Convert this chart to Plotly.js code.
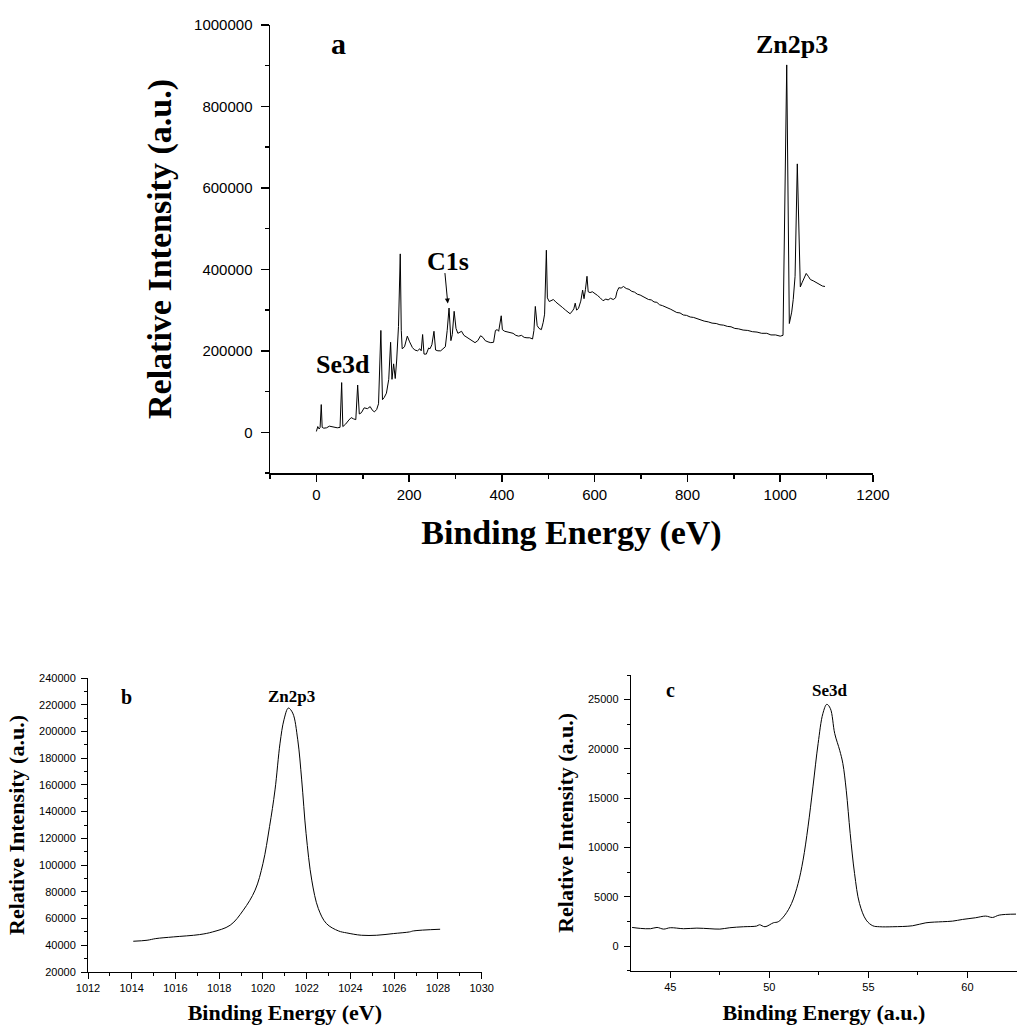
<!DOCTYPE html>
<html>
<head>
<meta charset="utf-8">
<script src="https://cdn.plot.ly/plotly-3.0.1.min.js"></script>
<style>html,body{margin:0;padding:0;background:#fff;}#chart{width:1017px;height:1025px;}</style>
</head>
<body>
<div id="chart"></div>
<script>
// Panel a: XPS survey spectrum
const surveyEnergy = [0,3,6,8,10.5,12.5,16,22,28,35,45,51,54.5,57,63,70,75,80,85,89,92.5,97,103,110,116,120,125,130,134,139,142.5,146,151,156,160,163,166.5,170,173,177,180.8,183,185,190,196,201,207,212,218,223,226,229,232,237,242,245,249,253.5,257,262,268,273,278,282,286,290,293,297,301,305,309,313,318,324,330,336,342,348,354,359,364,370,376,382,386,390,393,398.5,401,406,412,418,424,430,436,442,448,454,460,466,469,472,476,480,485,489,492,495.8,498,502,507,511,516,521,526,531,537,542,547,552,555,558,561,565,570,574,577,580,583.4,586,590,595,601,606,612,618,624,629,634,640,645,648,652,657,662,668,674,680,686,692,698,704,710,716,722,728,734,740,746,752,758,764,770,777,784,791,798,806,813,820,828,836,845,853,862,870,878,886,894,902,910,920,930,940,950,960,971,980,990,1000,1006,1014,1019.6,1024.7,1028,1032,1036.8,1043.3,1047,1052,1056,1060.5,1065,1071,1078,1085.5,1091,1096.5,1100];
const surveyIntensity = [2000,14000,8000,12000,68000,12000,10000,11000,15000,13000,11000,12000,122000,14000,20000,30000,36000,33000,31000,116000,45000,48000,60000,58000,63000,55000,50000,56000,70000,250000,80000,85000,96000,130000,221000,130000,168000,132000,175000,260000,438000,250000,205000,210000,236000,222000,208000,202000,200000,205000,200000,240000,192000,192000,207000,205000,215000,248000,202000,200000,200000,205000,210000,250000,305000,225000,240000,297000,255000,243000,245000,248000,238000,233000,230000,225000,220000,225000,237000,233000,225000,222000,220000,221000,250000,252000,248000,286000,252000,248000,246000,244000,243000,238000,236000,238000,233000,232000,232000,229000,250000,309000,262000,255000,252000,270000,290000,447000,330000,321000,323000,326000,320000,316000,312000,306000,300000,295000,291000,298000,303000,317000,300000,304000,322000,349000,328000,350000,383000,345000,343000,345000,341000,336000,330000,323000,327000,325000,329000,326000,330000,345000,355000,354000,358000,353000,351000,346000,344000,339000,337000,333000,330000,326000,325000,320000,319000,313000,311000,307000,305000,302000,299000,294000,293000,288000,287000,283000,282000,279000,276000,273000,271000,268000,267000,264000,263000,260000,259000,255000,254000,251000,250000,247000,246000,243000,243000,239000,239000,236000,238000,902000,267000,295000,326000,383000,659000,357000,367000,380000,390000,383000,375000,372000,367000,363000,359000,358000];

// Panel b: Zn2p3 high resolution
const znEnergy = [1014.07,1014.7,1015.1,1015.9,1017.1,1017.7,1018.5,1019.1,1019.64,1020.0,1020.3,1020.55,1020.78,1020.96,1021.16,1021.36,1021.59,1021.77,1021.97,1022.23,1022.53,1022.9,1023.45,1023.83,1024.5,1025.2,1025.96,1026.7,1026.88,1028.1];
const znIntensity = [43000,43750,45000,46250,48000,50000,55000,66250,81250,101250,128750,156250,191250,208750,217500,213750,193750,163750,123750,88750,67500,56250,50750,49250,47500,47500,48750,50000,50750,52000];

// Panel c: Se3d high resolution
const seEnergy = [43.07,43.5,44.0,44.33,44.66,45.0,45.67,46.34,47.0,47.5,48.0,48.7,49.36,49.5,49.78,50.2,50.45,50.78,51.12,51.45,51.7,51.95,52.2,52.46,52.7,52.9,53.08,53.3,53.55,53.71,53.88,54.08,54.3,54.55,54.89,55.22,55.56,56.23,57.23,57.9,58.74,59.25,59.75,60.4,60.92,61.26,61.6,62.45];
const seIntensity = [1890,1790,1760,1890,1720,1860,1760,1820,1760,1720,1860,1960,2030,2160,1960,2360,2470,3140,4320,6350,8715,12090,16150,20540,23580,24525,24090,21550,19860,18510,15810,11420,7360,4320,2630,2060,1960,1960,2060,2360,2470,2530,2700,2870,3040,2900,3140,3240];

const serif = "Liberation Serif, Times New Roman, serif";
const sans = "Liberation Sans, Arial, sans-serif";

function axisBase(o) {
  return Object.assign({
    showgrid: false, zeroline: false, showline: true, linecolor: '#000',
    ticks: 'outside', tickcolor: '#000', automargin: false, tickformat: 'd',
    fixedrange: true
  }, o);
}

const traces = [
  {x: surveyEnergy, y: surveyIntensity, xaxis: 'x', yaxis: 'y', type: 'scatter', mode: 'lines', line: {color: '#000', width: 1}, hoverinfo: 'skip'},
  {x: znEnergy, y: znIntensity, xaxis: 'x2', yaxis: 'y2', type: 'scatter', mode: 'lines', line: {color: '#000', width: 1, shape: 'spline'}, hoverinfo: 'skip'},
  {x: seEnergy, y: seIntensity, xaxis: 'x3', yaxis: 'y3', type: 'scatter', mode: 'lines', line: {color: '#000', width: 1, shape: 'spline'}, hoverinfo: 'skip'}
];

const layout = {
  width: 1017, height: 1025,
  margin: {l: 0, r: 0, t: 0, b: 0},
  paper_bgcolor: '#fff', plot_bgcolor: '#fff',
  showlegend: false,
  xaxis: axisBase({domain: [270/1017, 873/1017], range: [-100, 1200], tick0: 0, dtick: 200, ticklen: 7, linewidth: 1.5, tickwidth: 1.5,
    minor: {dtick: 100, ticklen: 4, ticks: 'outside', tickcolor: '#000', tickwidth: 1.5},
    tickfont: {family: sans, size: 15, color: '#000'}, anchor: 'y',
    title: {text: '<b>Binding Energy (eV)</b>', font: {family: serif, size: 34, color: '#000', weight: 'bold'}, standoff: 18}}),
  yaxis: axisBase({domain: [1 - 473/1025, 1 - 25/1025], range: [-100000, 1000000], tick0: 0, dtick: 200000, ticklen: 8, linewidth: 1.5, tickwidth: 1.5,
    minor: {dtick: 100000, ticklen: 4, ticks: 'outside', tickcolor: '#000', tickwidth: 1.5},
    ticklabelstandoff: 5,
    tickfont: {family: sans, size: 15, color: '#000'}, anchor: 'x',
    title: {text: '<b>Relative Intensity (a.u.)</b>', font: {family: serif, size: 34, color: '#000', weight: 'bold'}, standoff: 12}}),
  xaxis2: axisBase({domain: [88/1017, 481.7/1017], range: [1012, 1030], tick0: 1012, dtick: 2, ticklen: 6, linewidth: 1, tickwidth: 1,
    minor: {dtick: 1, ticklen: 3, ticks: 'outside', tickcolor: '#000'},
    tickfont: {family: sans, size: 11, color: '#000'}, anchor: 'y2',
    title: {text: '<b>Binding Energy (eV)</b>', font: {family: serif, size: 22, color: '#000', weight: 'bold'}, standoff: 12}}),
  yaxis2: axisBase({domain: [1 - 972/1025, 1 - 678/1025], range: [20000, 240000], tick0: 0, dtick: 20000, ticklen: 6, linewidth: 1, tickwidth: 1,
    minor: {dtick: 10000, ticklen: 3, ticks: 'outside', tickcolor: '#000'},
    ticklabelstandoff: 3,
    tickfont: {family: sans, size: 11, color: '#000'}, anchor: 'x2',
    title: {text: '<b>Relative Intensity (a.u.)</b>', font: {family: serif, size: 22, color: '#000', weight: 'bold'}, standoff: 8}}),
  xaxis3: axisBase({domain: [630.7/1017, 1], range: [43, 62.5], tick0: 0, dtick: 5, ticklen: 6, linewidth: 1, tickwidth: 1,
    minor: {dtick: 2.5, ticklen: 3, ticks: 'outside', tickcolor: '#000'},
    tickfont: {family: sans, size: 11, color: '#000'}, anchor: 'y3',
    title: {text: '<b>Binding Energy (a.u.)</b>', font: {family: serif, size: 22, color: '#000', weight: 'bold'}, standoff: 12}}),
  yaxis3: axisBase({domain: [1 - 970.7/1025, 1 - 675/1025], range: [-2500, 27500], tick0: 0, dtick: 5000, ticklen: 6, linewidth: 1, tickwidth: 1,
    minor: {dtick: 2500, ticklen: 3, ticks: 'outside', tickcolor: '#000'},
    ticklabelstandoff: 3,
    tickfont: {family: sans, size: 11, color: '#000'}, anchor: 'x3',
    title: {text: '<b>Relative Intensity (a.u.)</b>', font: {family: serif, size: 22, color: '#000', weight: 'bold'}, standoff: 8}}),
  annotations: [
    {xref: 'x', yref: 'y', x: 48, y: 955000, text: '<b>a</b>', showarrow: false, font: {family: serif, size: 30, color: '#000'}},
    {xref: 'x', yref: 'y', x: 56.6, y: 166700, text: '<b>Se3d</b>', showarrow: false, font: {family: serif, size: 26, color: '#000'}},
    {xref: 'x', yref: 'y', x: 282.7, y: 419000, text: '<b>C1s</b>', showarrow: false, font: {family: serif, size: 26, color: '#000'}},
    {xref: 'x', yref: 'y', x: 283.3, y: 316000, ax: -3, ay: -32, text: '', showarrow: true, arrowhead: 2, arrowsize: 1, arrowwidth: 1, arrowcolor: '#000'},
    {xref: 'x', yref: 'y', x: 1025.4, y: 951000, text: '<b>Zn2p3</b>', showarrow: false, font: {family: serif, size: 26, color: '#000'}},
    {xref: 'x2', yref: 'y2', x: 1013.75, y: 226000, text: '<b>b</b>', showarrow: false, font: {family: serif, size: 20, color: '#000'}},
    {xref: 'x2', yref: 'y2', x: 1021.3, y: 226000, text: '<b>Zn2p3</b>', showarrow: false, font: {family: serif, size: 17, color: '#000'}},
    {xref: 'x3', yref: 'y3', x: 45.0, y: 26000, text: '<b>c</b>', showarrow: false, font: {family: serif, size: 20, color: '#000'}},
    {xref: 'x3', yref: 'y3', x: 53.05, y: 25900, text: '<b>Se3d</b>', showarrow: false, font: {family: serif, size: 17, color: '#000'}}
  ]
};

Plotly.newPlot('chart', traces, layout, {displayModeBar: false, staticPlot: true});
</script>
</body>
</html>
